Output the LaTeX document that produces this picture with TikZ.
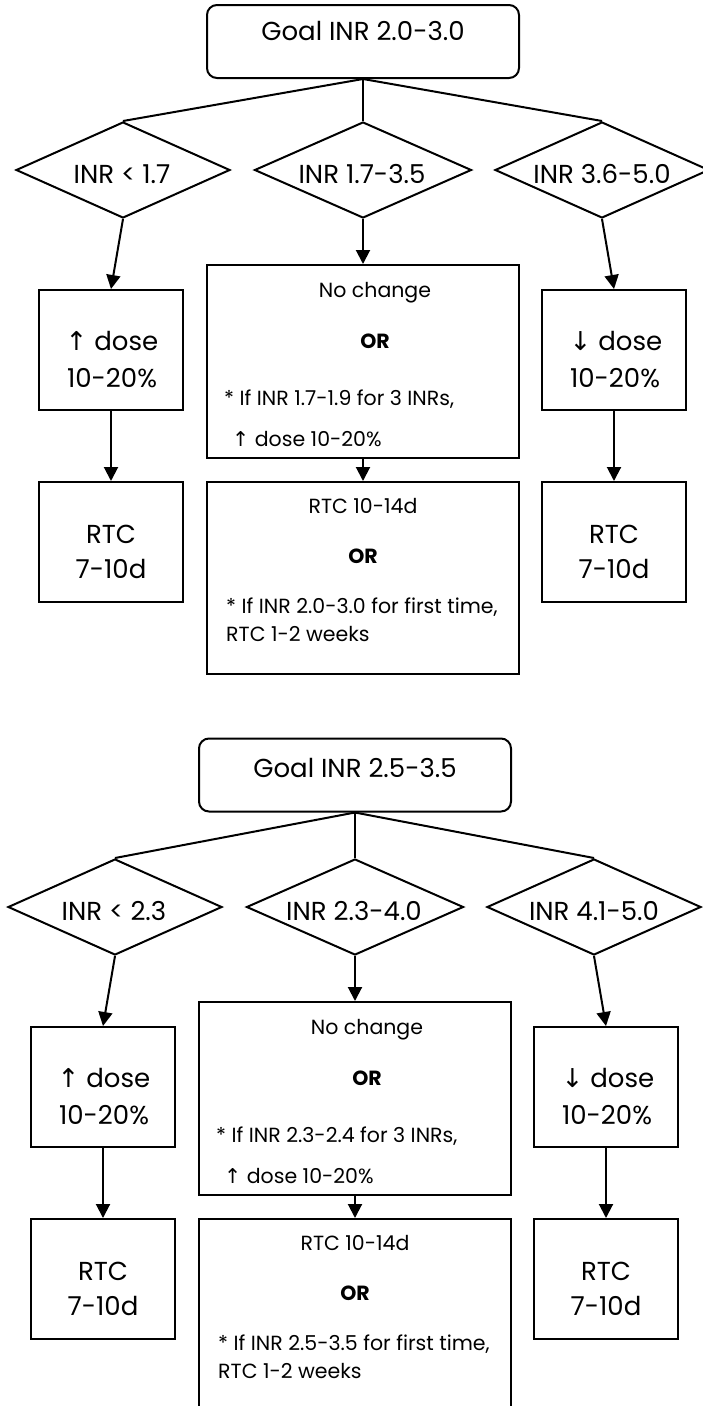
\documentclass[tikz,border=0pt]{standalone}
\usepackage{fontspec}
\setmainfont{Poppins}
\newfontfamily\arrfont{DejaVu Sans}
\usetikzlibrary{shapes.geometric,arrows.meta}
\newcommand\bigtxt{\fontsize{26}{31}\selectfont}
\newcommand\smalltxt{\fontsize{20.5}{24}\selectfont}
\newcommand\upar{{\arrfont ↑}}
\newcommand\downar{{\arrfont ↓}}
\tikzset{
  frame/.style={draw,line width=2pt,rectangle,inner sep=0pt},
  goalbox/.style={frame,rounded corners=10pt,minimum width=312pt,minimum height=73pt},
  dia/.style={draw,line width=2pt,diamond,inner sep=0pt,minimum height=96pt},
  smallbox/.style={frame,minimum width=144pt,minimum height=120pt},
  txt/.style={inner sep=0pt,anchor=base},
  ltxt/.style={inner sep=0pt,anchor=base west},
  link/.style={line width=2pt},
  arr/.style={line width=2pt,-{Triangle[length=14pt,width=14pt]}}
}
% #1 prefix, #2 goal text, #3 #4 #5 diamond texts, #6 first-box condition, #7 second-box condition, #8 goal centre y
\newcommand\inrflow[8]{%
  \node[goalbox] (#1goal) at (363,#8) {};
  \node[txt,font=\bigtxt] (#1goalt) at (363,40) {#2};
  \node[dia,minimum width=214pt] (#1d1) at (123,170) {};
  \node[dia,minimum width=217pt] (#1d2) at (363,170) {};
  \node[dia,minimum width=214pt] (#1d3) at (602,170) {};
  \node[txt,font=\bigtxt] (#1d1t) at (122,183) {#3};
  \node[txt,font=\bigtxt] (#1d2t) at (362,183) {#4};
  \node[txt,font=\bigtxt] (#1d3t) at (602,183) {#5};
  \node[smallbox] (#1b1) at (111,350) {};
  \node[frame,minimum width=312pt,minimum height=193pt] (#1b2) at (363,361.5) {};
  \node[smallbox] (#1b3) at (614,350) {};
  \node[smallbox] (#1c1) at (111,542) {};
  \node[frame,minimum width=312pt,minimum height=192pt] (#1c2) at (363,578) {};
  \node[smallbox] (#1c3) at (614,542) {};
  \node[txt,font=\bigtxt] (#1b1a) at (112,350) {\upar\ dose};
  \node[txt,font=\bigtxt] (#1b1b) at (112,387) {10-20\%};
  \node[txt,font=\bigtxt] (#1b3a) at (616,350) {\downar\ dose};
  \node[txt,font=\bigtxt] (#1b3b) at (615,387) {10-20\%};
  \node[txt,font=\bigtxt] (#1c1a) at (111,543) {RTC};
  \node[txt,font=\bigtxt] (#1c1b) at (111,578) {7-10d};
  \node[txt,font=\bigtxt] (#1c3a) at (614,543) {RTC};
  \node[txt,font=\bigtxt] (#1c3b) at (614,578) {7-10d};
  \node[txt,font=\smalltxt] (#1b2a) at (375,297) {No change};
  \node[txt,font=\smalltxt\bfseries] (#1b2b) at (375,348) {OR};
  \node[ltxt,font=\smalltxt] (#1b2c) at (224,405) {#6};
  \node[ltxt,font=\smalltxt] (#1b2d) at (232,446) {\upar\ dose 10-20\%};
  \node[txt,font=\smalltxt] (#1c2a) at (363,513) {RTC 10-14d};
  \node[txt,font=\smalltxt\bfseries] (#1c2b) at (363,563) {OR};
  \node[ltxt,font=\smalltxt] (#1c2c) at (226,613) {#7};
  \node[ltxt,font=\smalltxt] (#1c2d) at (226,641) {RTC 1-2 weeks};
  \draw[link] (#1goal.south) -- (#1d1.north);
  \draw[link] (#1goal.south) -- (#1d2.north);
  \draw[link] (#1goal.south) -- (#1d3.north);
  \draw[arr] (#1d1.south) -- (#1b1.north);
  \draw[arr] (#1d2.south) -- (#1b2.north);
  \draw[arr] (#1d3.south) -- (#1b3.north);
  \draw[arr] (#1b1.south) -- (#1c1.north);
  \draw[arr] (#1b2.south) -- (#1c2.north);
  \draw[arr] (#1b3.south) -- (#1c3.north);
}
\begin{document}
\begin{tikzpicture}[x=1pt,y=-1pt]
\useasboundingbox (0,0) rectangle (703,1406);
\clip (0,0) rectangle (703,1406);
\fill[white] (0,0) rectangle (703,1406);
\inrflow{a}{Goal INR 2.0-3.0}{INR < 1.7}{INR 1.7-3.5}{INR 3.6-5.0}{* If INR 1.7-1.9 for 3 INRs,}{* If INR 2.0-3.0 for first time,}{41.5}
\begin{scope}[shift={(-8,737)}]
\inrflow{b}{Goal INR 2.5-3.5}{INR < 2.3}{INR 2.3-4.0}{INR 4.1-5.0}{* If INR 2.3-2.4 for 3 INRs,}{* If INR 2.5-3.5 for first time,}{38}
\end{scope}
\end{tikzpicture}
\end{document}
